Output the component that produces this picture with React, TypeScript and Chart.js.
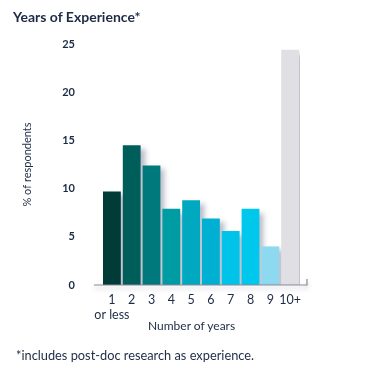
import React, { useEffect, useRef } from "react";
import { Chart, registerables } from "chart.js";

Chart.register(...registerables);

const categories: (string | string[])[] = [["1", "or less"], "2", "3", "4", "5", "6", "7", "8", "9", "10+"];
const percentRespondents = [9.7, 14.5, 12.4, 7.9, 8.8, 6.9, 5.6, 7.9, 4.0, 24.4];
const barColors = ["#003b38", "#005e5a", "#00797c", "#009ca3", "#00a9c0", "#00b0d2", "#00c3ea", "#00c8ec", "#8cd9f0", "#e0e0e4"];
const yTicks = [0, 5, 10, 15, 20, 25];

const NAVY = "#1d2b45";
const FONT = "Lato, 'Open Sans', sans-serif";

const shadowPlugin = {
  id: "barShadow",
  beforeDatasetDraw(chart: any) {
    const ctx = chart.ctx;
    ctx.save();
    ctx.shadowColor = "rgba(70,70,110,0.35)";
    ctx.shadowBlur = 5;
    ctx.shadowOffsetX = 5;
    ctx.shadowOffsetY = 4;
  },
  afterDatasetDraw(chart: any) {
    chart.ctx.restore();
  },
};

const axisLinePlugin = {
  id: "axisLine",
  afterDatasetsDraw(chart: any) {
    const { ctx, chartArea } = chart;
    const y = chart.scales.y.getPixelForValue(0);
    const x0 = chartArea.left - 8;
    const x1 = chartArea.right + 7;
    ctx.save();
    ctx.shadowColor = "rgba(80,80,120,0.35)";
    ctx.shadowBlur = 4;
    ctx.shadowOffsetY = 3;
    ctx.strokeStyle = "#8a8a95";
    ctx.lineWidth = 1.2;
    ctx.beginPath();
    ctx.moveTo(x0, y);
    ctx.lineTo(x1, y);
    ctx.lineTo(x1, y - 6);
    ctx.stroke();
    ctx.restore();
  },
};

export default function App() {
  const ref = useRef<HTMLCanvasElement | null>(null);
  useEffect(() => {
    if (!ref.current) return;
    const chart = new Chart(ref.current, {
      type: "bar",
      data: {
        labels: categories,
        datasets: [
          {
            data: percentRespondents,
            backgroundColor: barColors,
            borderWidth: 0,
            barPercentage: 0.9,
            categoryPercentage: 1,
          },
        ],
      },
      options: {
        animation: false,
        responsive: false,
        maintainAspectRatio: false,
        layout: { padding: { left: 0, right: 82, top: 44, bottom: 30 } },
        plugins: { legend: { display: false }, tooltip: { enabled: false }, title: { display: false } },
        scales: {
          x: {
            grid: { display: false, drawTicks: false },
            border: { display: false },
            ticks: {
              color: NAVY,
              font: { family: FONT, size: 12.5 },
              padding: 7,
              maxRotation: 0,
              autoSkip: false,
            },
            afterFit(scale: any) {
              scale.height = 60;
            },
          },
          y: {
            min: 0,
            max: 25,
            afterBuildTicks(scale: any) {
              scale.ticks = yTicks.map((v) => ({ value: v }));
            },
            grid: { display: false, drawTicks: false },
            border: { display: false },
            ticks: {
              color: NAVY,
              font: { family: FONT, size: 11, weight: "bold" },
              padding: 27,
            },
            title: {
              display: true,
              text: "% of respondents",
              color: NAVY,
              font: { family: FONT, size: 11 },
              padding: { top: 21, bottom: 0 },
            },
            afterFit(scale: any) {
              scale.width = 102;
            },
          },
        },
      },
      plugins: [shadowPlugin, axisLinePlugin],
    });
    return () => chart.destroy();
  }, []);

  return (
    <div style={{ position: "fixed", left: 0, top: 0, width: 382, height: 375, background: "#fff", fontFamily: FONT, color: NAVY }}>
      <canvas ref={ref} width={382} height={375} style={{ position: "absolute", left: 0, top: 0, width: 382, height: 375 }} />
      <div style={{ position: "absolute", left: 13, top: 8, fontSize: 14, fontWeight: 700, whiteSpace: "nowrap" }}>Years of Experience*</div>
      <div style={{ position: "absolute", left: 148, top: 318, fontSize: 12, whiteSpace: "nowrap" }}>Number of years</div>
      <div style={{ position: "absolute", left: 16, top: 347, fontSize: 12.8, whiteSpace: "nowrap" }}>*includes post-doc research as experience.</div>
    </div>
  );
}
